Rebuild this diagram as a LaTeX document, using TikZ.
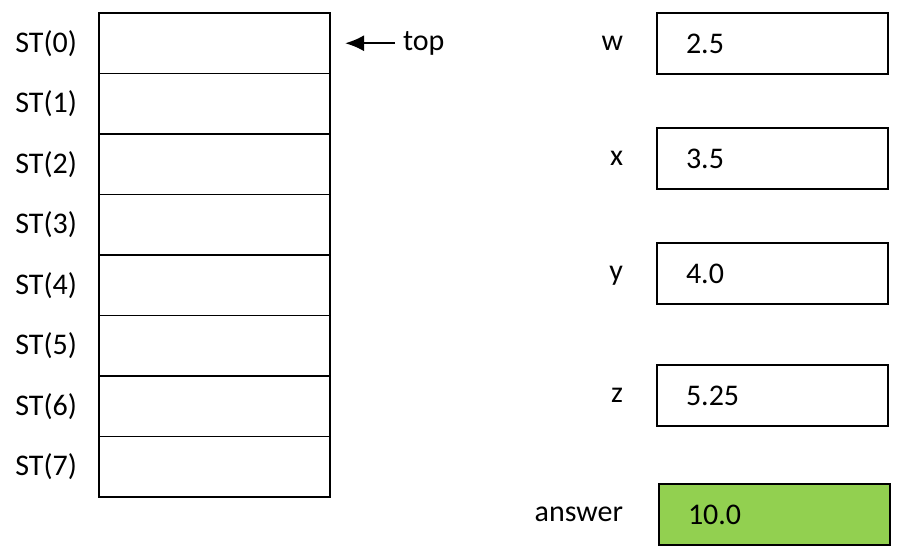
\documentclass[tikz,border=0pt]{standalone}
\usepackage{fontspec}
\setmainfont{Carlito}
\usetikzlibrary{positioning,arrows.meta}
\tikzset{
cell/.style = {draw, line width=1pt, rectangle, minimum width=231pt, minimum height=60.5pt, inner sep=0pt, outer sep=0pt},
pair/.style = {draw, line width=1.8pt},
varbox/.style = {draw, line width=1.6pt, rectangle, minimum height=61pt, text width=173pt, inner xsep=29pt, inner ysep=0pt, align=left, outer sep=0pt},
lbl/.style = {inner sep=0pt, outer sep=0pt},
varlbl/.style = {lbl, text height=14pt, text depth=0pt},
}
\begin{document}
\begin{tikzpicture}[x=1pt, y=1pt, font=\fontsize{30}{36}\selectfont]
  \useasboundingbox (0,0) rectangle (900,552);
  % the stack
  \node [cell] (st0) at (214.5,508.75) {};
  \foreach \i [count=\j from 0] in {1,...,7}
    \node [cell, below=0pt of st\j] (st\i) {};
  \foreach \i in {0,...,7}
    \node [lbl, left=22pt of st\i] (stlbl\i) {ST(\i)};
  \foreach \i [evaluate=\i as \k using int(\i+1)] in {0,2,4,6}
    \draw [pair] (st\i.north west) rectangle (st\k.south east);
  \node [lbl, right=73pt of st0] (toplbl) {top};
  \draw [-{Latex[length=19pt,width=16pt]}, line width=2.2pt] ([xshift=-8pt]toplbl.west) -- ([xshift=15pt]st0.east);
  % variables
  \node [varbox] (wbox) at (772.5,508.5) {2.5};
  \node [varbox] (xbox) at (772.5,393.5) {3.5};
  \node [varbox] (ybox) at (772.5,278.5) {4.0};
  \node [varbox] (zbox) at (772.5,156.5) {5.25};
  \node [varbox, fill={rgb,255:red,146;green,208;blue,80}] (ansbox) at (774.5,37.5) {10.0};
  \node [varlbl, left=34pt of wbox] (wlbl) {w};
  \node [varlbl, left=34pt of xbox] (xlbl) {x};
  \node [varlbl, left=34pt of ybox] (ylbl) {y};
  \node [varlbl, left=34pt of zbox] (zlbl) {z};
  \node [varlbl, left=36pt of ansbox] (anslbl) {answer};
\end{tikzpicture}
\end{document}
